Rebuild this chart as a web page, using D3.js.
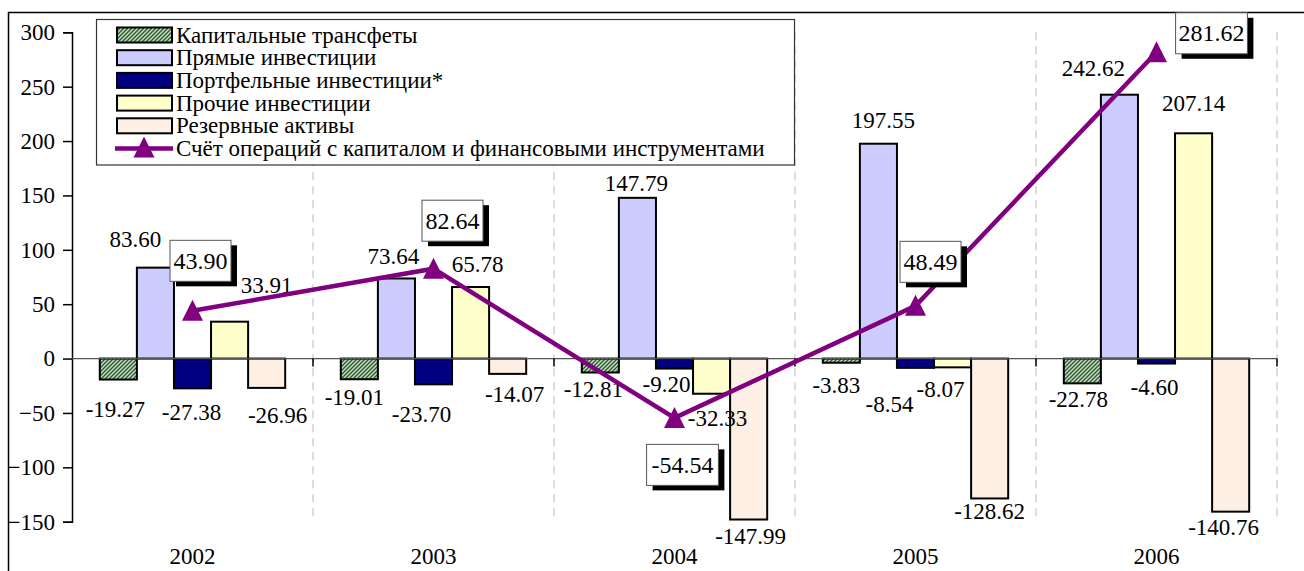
<!DOCTYPE html>
<html>
<head>
<meta charset="utf-8">
<style>
  body { margin: 0; background: #fff; }
  svg text { font-family: "Liberation Serif", Tinos, "Times New Roman", Times, "DejaVu Serif", serif; }
</style>
</head>
<body>
<div id="chart"></div>
<script src="https://d3js.org/d3.v7.min.js"></script>
<script>
// data
var years = ["2002", "2003", "2004", "2005", "2006"];
var seriesNames = ["Капитальные трансфеты", "Прямые инвестиции", "Портфельные инвестиции*",
                   "Прочие инвестиции", "Резервные активы"];
var capTransfers = [-19.27, -19.01, -12.81, -3.83, -22.78];
var directInv = [83.60, 73.64, 147.79, 197.55, 242.62];
var portfolioInv = [-27.38, -23.70, -9.20, -8.54, -4.60];
var otherInv = [33.91, 65.78, -32.33, -8.07, 207.14];
var reserveAssets = [-26.96, -14.07, -147.99, -128.62, -140.76];
var lineName = "Счёт операций с капиталом и финансовыми инструментами";
var capitalAccount = [43.90, 82.64, -54.54, 48.49, 281.62];
var yTicks = [-150, -100, -50, 0, 50, 100, 150, 200, 250, 300];

var seriesValues = [capTransfers, directInv, portfolioInv, otherInv, reserveAssets];
var seriesFill = ["url(#hatchGreen)", "#ccccff", "#000080", "#ffffcc", "url(#hatchPeach)"];

// label placement tweaks [dx, distance of baseline from bar end]
var labelNudge = [
  [[-3, 37], [-5, 26], [-7, 25], [-5, 30], [-4, 24]],
  [[-20, 21], [-3, 14], [-1, 7], [5, 16], [-26, 19]],
  [[-1, 32], [-12, 38], [-8, 23], [-26, 44], [-2, 31]],
  [[37, 29], [7, 15], [6, 32], [-12, 30], [0, 22]],
  [[11, 35], [7, 28], [2, 24], [0, 21], [-7, 23]]
];
var boxNudge = [[8, -50], [19, -48], [8, 47], [15, -44], [55, -19]];

var fs = 23;
var width = 1304, height = 571;
var svg = d3.select("#chart").append("svg")
  .attr("width", width).attr("height", height);

var defs = svg.append("defs");
var pg = defs.append("pattern").attr("id", "hatchGreen").attr("patternUnits", "userSpaceOnUse")
  .attr("width", 4).attr("height", 4);
pg.append("rect").attr("width", 4).attr("height", 4).attr("fill", "#c4dcc4");
pg.append("path").attr("d", "M-1,1 l2,-2 M0,4 l4,-4 M3,5 l2,-2").attr("stroke", "#2a582a").attr("stroke-width", 1.3);
var pp = defs.append("pattern").attr("id", "hatchPeach").attr("patternUnits", "userSpaceOnUse")
  .attr("width", 4).attr("height", 4);
pp.append("rect").attr("width", 4).attr("height", 4).attr("fill", "#fff1e6");
pp.append("path").attr("d", "M-1,1 l2,-2 M0,4 l4,-4 M3,5 l2,-2").attr("stroke", "#fde6d6").attr("stroke-width", 0.7);

// outer frame
svg.append("path").attr("d", "M8.5," + (height + 5) + " V12.5 H" + (width + 5))
  .attr("fill", "none").attr("stroke", "#000").attr("stroke-width", 1.5);

var x = d3.scaleBand().domain(years).range([72, 1277]);
var xs = d3.scaleBand().domain(d3.range(5)).range([0, x.bandwidth()]).paddingOuter(0.75);
var y = d3.scaleLinear().domain([-150, 300]).range([521.7, 32.3]);

// dashed separators
svg.append("g").selectAll("line").data(years).join("line")
  .attr("x1", function(d) { return x(d) + x.bandwidth(); })
  .attr("x2", function(d) { return x(d) + x.bandwidth(); })
  .attr("y1", y(300)).attr("y2", y(-150))
  .attr("stroke", "#b8b8b8").attr("stroke-width", 1).attr("stroke-dasharray", "8,6");

// y axis
var yAxis = svg.append("g").attr("transform", "translate(72,0)")
  .call(d3.axisLeft(y).tickValues(yTicks).tickSize(9).tickPadding(8).tickFormat(d3.format("d")));
yAxis.attr("font-family", null).attr("font-size", null);
yAxis.select(".domain").attr("stroke", "#000").attr("stroke-width", 1.5);
yAxis.selectAll(".tick line").attr("stroke", "#000").attr("stroke-width", 1.5);
yAxis.selectAll("text").attr("font-size", fs).attr("fill", "#000");

// bars
seriesValues.forEach(function(vals, s) {
  svg.append("g").selectAll("rect").data(vals).join("rect")
    .attr("x", function(d, i) { return x(years[i]) + xs(s); })
    .attr("width", xs.bandwidth())
    .attr("y", function(d) { return y(Math.max(0, d)); })
    .attr("height", function(d) { return Math.abs(y(d) - y(0)); })
    .attr("fill", seriesFill[s]).attr("stroke", "#000").attr("stroke-width", 2);
});

// x axis at zero
svg.append("line").attr("x1", 72).attr("x2", 1277).attr("y1", y(0)).attr("y2", y(0))
  .attr("stroke", "#555").attr("stroke-width", 1.2);
svg.append("g").selectAll("line").data(years).join("line")
  .attr("x1", function(d) { return x(d) + x.bandwidth(); })
  .attr("x2", function(d) { return x(d) + x.bandwidth(); })
  .attr("y1", y(0)).attr("y2", y(0) + 8).attr("stroke", "#000").attr("stroke-width", 1.5);
svg.append("g").selectAll("text").data(years).join("text")
  .attr("x", function(d) { return x(d) + x.bandwidth() / 2; })
  .attr("y", 564).attr("text-anchor", "middle").attr("font-size", fs)
  .text(function(d) { return d; });

// bar labels
seriesValues.forEach(function(vals, s) {
  svg.append("g").selectAll("text").data(vals).join("text")
    .attr("x", function(d, i) { return x(years[i]) + xs(s) + xs.bandwidth() / 2 + labelNudge[s][i][0]; })
    .attr("y", function(d, i) { return d >= 0 ? y(d) - labelNudge[s][i][1] : y(d) + labelNudge[s][i][1]; })
    .attr("text-anchor", "middle").attr("font-size", fs)
    .text(function(d) { return d.toFixed(2); });
});

// line series
var cx = function(i) { return x(years[i]) + x.bandwidth() / 2; };
var tri = "M0,-11 L10.5,10 L-10.5,10 Z";
svg.append("path").datum(capitalAccount)
  .attr("d", d3.line().x(function(d, i) { return cx(i); }).y(function(d) { return y(d); }))
  .attr("fill", "none").attr("stroke", "#800080").attr("stroke-width", 4.5);
svg.append("g").selectAll("path").data(capitalAccount).join("path")
  .attr("transform", function(d, i) { return "translate(" + cx(i) + "," + y(d) + ")"; })
  .attr("d", tri).attr("fill", "#800080");

// boxed line labels
var boxes = svg.append("g").selectAll("g").data(capitalAccount).join("g")
  .attr("transform", function(d, i) {
    return "translate(" + (cx(i) + boxNudge[i][0]) + "," + (y(d) + boxNudge[i][1]) + ")";
  });
boxes.each(function(d) {
  var g = d3.select(this);
  var t = d.toFixed(2);
  var w = t.length * 10.8 + 7, h = 41;
  g.append("rect").attr("x", -w / 2 + 6).attr("y", -h / 2 + 5).attr("width", w).attr("height", h).attr("fill", "#000");
  g.append("rect").attr("x", -w / 2).attr("y", -h / 2).attr("width", w).attr("height", h)
    .attr("fill", "#fff").attr("stroke", "#555").attr("stroke-width", 1);
  g.append("text").attr("x", 0).attr("y", 8).attr("text-anchor", "middle").attr("font-size", 24).text(t);
});

// legend
var lg = svg.append("g");
lg.append("rect").attr("x", 96.5).attr("y", 19.5).attr("width", 698).attr("height", 145.5)
  .attr("fill", "#fff").attr("stroke", "#333").attr("stroke-width", 1.2);
var rowY = d3.scaleLinear().domain([0, 5]).range([35, 148.5]);
seriesNames.forEach(function(name, s) {
  lg.append("rect").attr("x", 117).attr("y", rowY(s) - 7.5).attr("width", 55).attr("height", 15)
    .attr("fill", seriesFill[s]).attr("stroke", "#000").attr("stroke-width", 2);
  lg.append("text").attr("x", 176).attr("y", rowY(s) + 7.5).attr("font-size", fs).text(name);
});
lg.append("line").attr("x1", 115).attr("x2", 173).attr("y1", rowY(5)).attr("y2", rowY(5))
  .attr("stroke", "#800080").attr("stroke-width", 4.5);
lg.append("path").attr("transform", "translate(144," + (rowY(5) - 1) + ")").attr("d", tri).attr("fill", "#800080");
lg.append("text").attr("x", 176).attr("y", rowY(5) + 7.5).attr("font-size", fs).text(lineName);
</script>
</body>
</html>
